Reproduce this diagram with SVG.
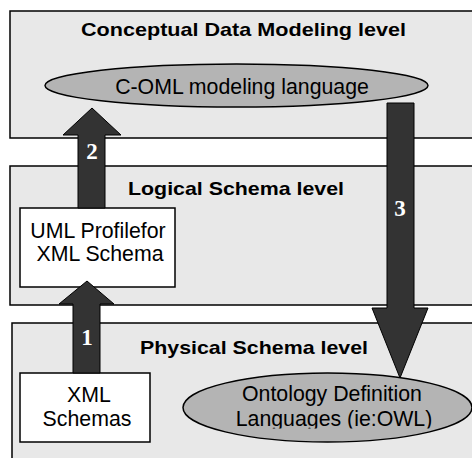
<svg xmlns="http://www.w3.org/2000/svg" width="472" height="458" viewBox="0 0 472 458">
  <style>
    .panel { fill: #e8e8e8; stroke: #000; stroke-width: 1.5; }
    .box { fill: #fff; stroke: #000; stroke-width: 1.5; }
    .oval { fill: #b4b4b4; stroke: #000; stroke-width: 1.5; }
    .arrow { fill: #333; stroke: #000; stroke-width: 1; stroke-linejoin: miter; }
    .title { font-family: "Liberation Sans", Arial, sans-serif; font-weight: bold; font-size: 18.5px; fill: #000; text-anchor: middle; }
    .label { font-family: "Liberation Sans", Arial, sans-serif; font-size: 21.3px; fill: #000; text-anchor: middle; }
    .num { font-family: "Liberation Serif", "Times New Roman", serif; font-weight: bold; font-size: 23px; fill: #fff; text-anchor: middle; }
  </style>
  <defs>
    <clipPath id="odlClip">
      <rect x="180" y="370" width="300" height="58.5"/>
    </clipPath>
  </defs>
  <rect width="472" height="458" fill="#fff"/>

  <!-- level panels -->
  <g id="conceptual-level">
    <rect class="panel" x="10" y="11" width="480" height="127"/>
    <text class="title" x="243.5" y="36" textLength="325" lengthAdjust="spacingAndGlyphs">Conceptual Data Modeling level</text>
  </g>
  <g id="logical-level">
    <rect class="panel" x="10" y="166" width="480" height="139"/>
    <text class="title" x="236" y="195" textLength="216" lengthAdjust="spacingAndGlyphs">Logical Schema level</text>
  </g>
  <g id="physical-level">
    <rect class="panel" x="12" y="323" width="480" height="160"/>
    <text class="title" x="254" y="354" textLength="228" lengthAdjust="spacingAndGlyphs">Physical Schema level</text>
  </g>

  <!-- nodes -->
  <g id="coml">
    <ellipse class="oval" cx="236.5" cy="85.5" rx="191.5" ry="21.5"/>
    <text class="label" x="242" y="94">C-OML modeling language</text>
  </g>
  <g id="uml-profile">
    <rect class="box" x="20" y="208" width="155" height="79"/>
    <text class="label" x="98" y="238">UML Profilefor</text>
    <text class="label" x="100" y="261">XML Schema</text>
  </g>
  <g id="xml-schemas">
    <rect class="box" x="20" y="373" width="130" height="69"/>
    <text class="label" x="89" y="402">XML</text>
    <text class="label" x="87" y="426">Schemas</text>
  </g>
  <g id="ontology-languages">
    <ellipse class="oval" cx="327.5" cy="407.5" rx="144.5" ry="34.5"/>
    <g clip-path="url(#odlClip)">
      <text class="label" x="332" y="401">Ontology Definition</text>
      <text class="label" x="334" y="425.5">Languages (ie:OWL)</text>
    </g>
  </g>

  <!-- connectors: block arrows between levels -->
  <g id="connectors">
    <g id="arrow-1">
      <polygon class="arrow" points="73,373 73,304 59,304 87,281 114,304 100,304 100,373"/>
      <text class="num" x="87" y="345">1</text>
    </g>
    <g id="arrow-2">
      <polygon class="arrow" points="78,208 78,135 63,135 92,108 121,135 105,135 105,208"/>
      <text class="num" x="92" y="159">2</text>
    </g>
    <g id="arrow-3">
      <polygon class="arrow" points="387,103 414,103 414,308 428,308 400,378 372,308 387,308"/>
      <text class="num" x="400" y="216">3</text>
    </g>
  </g>
</svg>
